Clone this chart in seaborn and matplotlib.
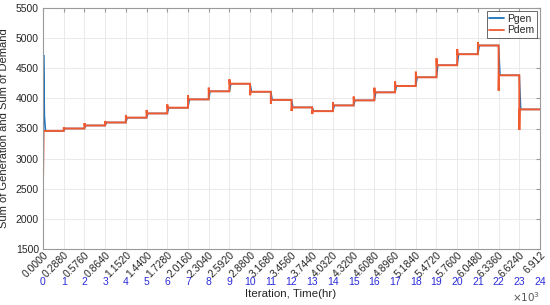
import numpy as np
import pandas as pd
import matplotlib
matplotlib.use("Agg")
import matplotlib.pyplot as plt
import matplotlib.transforms as mtransforms
import seaborn as sns

# ---------------- data ----------------
iters_per_hour = 288
hours = list(range(25))                      # hour tick labels 0..24
iteration_tick_labels = ["0.0000", "0.2880", "0.5760", "0.8640", "1.1520", "1.4400",
                         "1.7280", "2.0160", "2.3040", "2.5920", "2.8800", "3.1680",
                         "3.4560", "3.7440", "4.0320", "4.3200", "4.6080", "4.8960",
                         "5.1840", "5.4720", "5.7600", "6.0480", "6.3360", "6.6240", "6.912"]

# settled level of each hour (hours 0..23)
pdem_level = [3460, 3500, 3550, 3600, 3680, 3750, 3845, 3983, 4117, 4243, 4110, 3975,
              3850, 3788, 3883, 3967, 4100, 4205, 4350, 4550, 4733, 4878, 4383, 3817]
pgen_level = [3460, 3500, 3550, 3600, 3680, 3750, 3845, 3983, 4117, 4243, 4110, 3975,
              3850, 3788, 3883, 3967, 4100, 4205, 4350, 4550, 4733, 4878, 4383, 3817]
# transient peak / dip of demand at start of hours 1..23
pdem_peak = [3520, 3590, 3625, 3725, 3808, 3900, 4053, 4178, 4317, 4052, 3907, 3790,
             3740, 3935, 4030, 4177, 4280, 4443, 4665, 4820, 4930, 4128, 3475]
# start-up transients (iteration, value)
pgen_start_iter = [0, 8, 20, 35]
pgen_start_val = [1500, 4720, 3700, 3460]
pdem_start_iter = [0, 8]
pdem_start_val = [2600, 3460]

# transient durations (iterations)
spike_up = 1
spike_settle = 5
gen_ramp = 20

# ---------------- build long table ----------------
rows = []
for it, v in zip(pgen_start_iter, pgen_start_val):
    rows.append(("Pgen", it, v))
for it, v in zip(pdem_start_iter, pdem_start_val):
    rows.append(("Pdem", it, v))
for k in range(1, 24):
    x0 = k * iters_per_hour
    rows.append(("Pdem", x0, pdem_level[k - 1]))
    rows.append(("Pdem", x0 + spike_up, pdem_peak[k - 1]))
    rows.append(("Pdem", x0 + spike_settle, pdem_level[k]))
    rows.append(("Pgen", x0, pgen_level[k - 1]))
    rows.append(("Pgen", x0 + gen_ramp, pgen_level[k]))
rows.append(("Pdem", 24 * iters_per_hour, pdem_level[-1]))
rows.append(("Pgen", 24 * iters_per_hour, pgen_level[-1]))
df = pd.DataFrame(rows, columns=["series", "iteration", "value"])

# ---------------- plot ----------------
sns.set_style("white")
plt.rcParams["font.family"] = ["Liberation Sans", "DejaVu Sans"]
plt.rcParams["font.size"] = 7.5

fig = plt.figure(figsize=(5.5, 3.05), dpi=100)
ax = fig.add_axes([43 / 550, 1 - 249 / 305, (540 - 43) / 550, (249 - 8) / 305])

sns.lineplot(data=df, x="iteration", y="value", hue="series",
             hue_order=["Pgen", "Pdem"],
             palette={"Pgen": "#1a72bd", "Pdem": "#f05a30"},
             estimator=None, sort=True, linewidth=1.3, ax=ax)
for ln in ax.get_lines():
    ln.set_solid_joinstyle("miter")
ax.get_lines()[0].set_linewidth(1.1)
ax.get_lines()[1].set_linewidth(1.4)

ax.set_xlim(0, 24 * iters_per_hour)
ax.set_ylim(1500, 5500)
xt = [h * iters_per_hour for h in hours]
ax.set_xticks(xt)
ax.set_xticklabels(iteration_tick_labels, rotation=45, ha="right", va="top",
                   rotation_mode="anchor")
offset = mtransforms.ScaledTranslation(9 / 100, 0, fig.dpi_scale_trans)
for lbl in ax.get_xticklabels():
    lbl.set_transform(lbl.get_transform() + offset)
ax.set_yticks(np.arange(1500, 5501, 500))

ax.grid(True, color="#e6e6e6", linewidth=0.6)
for s in ax.spines.values():
    s.set_color("#9a9a9a")
    s.set_linewidth(0.8)
ax.tick_params(direction="in", length=3, color="#9a9a9a", labelcolor="#262626",
               top=True, right=True, pad=3)
ax.tick_params(axis="x", pad=0.5)

ax.set_xlabel("")
ax.set_ylabel("Sum of Generation and Sum of Demand", fontsize=8, color="#262626")
ax.yaxis.set_label_coords(-0.068, 0.5)

# hour labels (blue)
tr = mtransforms.blended_transform_factory(ax.transData, ax.transAxes)
for h, x in zip(hours, xt):
    ax.text(x, -0.135, str(h), transform=tr, ha="center", va="center",
            color="#2b2bd8", fontsize=7.5)

fig.text(291 / 550, 1 - 294 / 305, "Iteration, Time(hr)", ha="center", va="center",
         fontsize=8.25, color="#262626")
fig.text(540 / 550, 1 - 297 / 305, r"$\times10^{3}$", ha="right", va="center",
         fontsize=7.5, color="#555555")

leg = ax.legend(loc="upper right", frameon=True, fancybox=False, fontsize=7.5,
                handlelength=1.4, handletextpad=0.3, borderpad=0.25,
                labelspacing=0.15, borderaxespad=0.3)
leg.get_frame().set_edgecolor("#262626")
leg.get_frame().set_linewidth(0.6)

fig.savefig("out.png", dpi=100)
